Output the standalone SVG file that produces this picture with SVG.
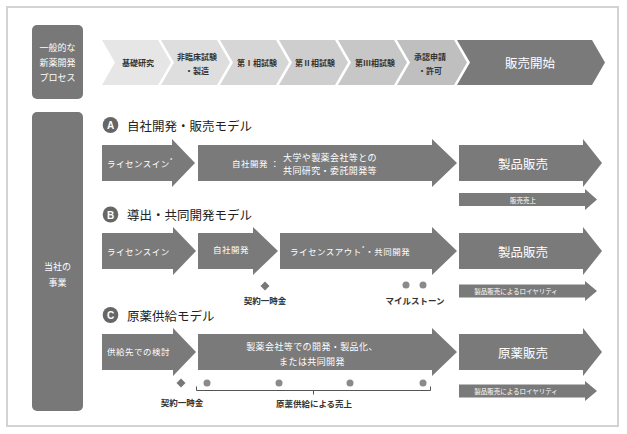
<svg xmlns="http://www.w3.org/2000/svg" width="627" height="434" viewBox="0 0 627 434">
<defs>
<style>
text{font-family:"Noto Sans CJK JP","Noto Sans",sans-serif;dominant-baseline:central}
.frame{fill:#fff;stroke:#d3d3d3;stroke-width:2}
.lbox{fill:#787878}
.lt{fill:#fff;font-size:9px;text-anchor:middle}
.chev text{fill:#333;font-size:8px;font-weight:bold;text-anchor:middle}
.arr{fill:#7a7a7a}
.at{fill:#fff;font-size:8.5px;letter-spacing:0.5px}
.at9{fill:#fff;font-size:9px;letter-spacing:0.4px}
.big{fill:#fff;font-size:12.5px;text-anchor:middle}
.sm{fill:#fff;font-size:6.5px;text-anchor:middle}
.ttl{fill:#222;font-size:12.5px}
.circ{fill:#666}
.cl{fill:#fff;font-size:10px;font-weight:bold;text-anchor:middle;font-family:"Liberation Sans",sans-serif}
.lab{fill:#333;font-size:8.5px;font-weight:600;text-anchor:middle}
.dot{fill:#8a8a8a}
.dia{fill:#777}
</style>
</defs>
<rect class="frame" x="7" y="7" width="611" height="419"/>

<g id="process-label">
<rect class="lbox" x="32" y="25" width="51" height="74" rx="5"/>
<text class="lt" x="57.5" y="47">一般的な</text>
<text class="lt" x="57.5" y="62">新薬開発</text>
<text class="lt" x="57.5" y="77">プロセス</text>
</g>

<g id="step-basic" class="chev">
<polygon points="102,40 158,40 171,62.5 158,85 102,85 115,62.5" fill="#e6e6e6"/>
<text x="138" y="62.5">基礎研究</text>
</g>
<g id="step-nonclinical" class="chev">
<polygon points="161,40 217,40 230,62.5 217,85 161,85 174,62.5" fill="#dedede"/>
<text x="197" y="56">非臨床試験</text>
<text x="197" y="70">・製造</text>
</g>
<g id="step-phase1" class="chev">
<polygon points="220,40 276,40 289,62.5 276,85 220,85 233,62.5" fill="#d6d6d6"/>
<text x="257" y="62.5">第Ⅰ相試験</text>
</g>
<g id="step-phase2" class="chev">
<polygon points="279,40 335,40 348,62.5 335,85 279,85 292,62.5" fill="#cecece"/>
<text x="315" y="62.5">第Ⅱ相試験</text>
</g>
<g id="step-phase3" class="chev">
<polygon points="338,40 394,40 407,62.5 394,85 338,85 351,62.5" fill="#c7c7c7"/>
<text x="375" y="62.5">第Ⅲ相試験</text>
</g>
<g id="step-approval" class="chev">
<polygon points="397,40 454,40 467,62.5 454,85 397,85 410,62.5" fill="#bfbfbf"/>
<text x="430" y="56">承認申請</text>
<text x="430" y="70">・許可</text>
</g>
<g id="step-launch">
<polygon points="457,40 592,40 605,62.5 592,85 457,85 470,62.5" fill="#7a7a7a"/>
<text class="big" x="530" y="62.5">販売開始</text>
</g>

<g id="business-label">
<rect class="lbox" x="32" y="112" width="51" height="299" rx="5"/>
<text class="lt" x="57.5" y="266">当社の</text>
<text class="lt" x="57.5" y="282">事業</text>
</g>

<!-- Model A -->
<g id="title-a">
<ellipse class="circ" cx="110.5" cy="125" rx="7.8" ry="8"/>
<text class="cl" x="110.5" y="125.5">A</text>
<text class="ttl" x="127" y="125">自社開発・販売モデル</text>
</g>
<g id="a-licensein">
<path class="arr" d="M102,145H172V139L195,163L172,187V181H102Z"/>
<text class="at" x="107" y="163">ライセンスイン<tspan font-size="6" dy="-3">*</tspan></text>
</g>
<g id="a-develop">
<path class="arr" d="M198,145H432V139L457,163L432,187V181H198Z"/>
<text class="at" x="232" y="163">自社開発 ：</text>
<text class="at9" x="283" y="157">大学や製薬会社等との</text>
<text class="at9" x="283" y="170">共同研究・委託開発等</text>
</g>
<g id="a-sales">
<path class="arr" d="M459,145H583V139L602,163L583,187V181H459Z"/>
<text class="big" x="523" y="163">製品販売</text>
</g>
<g id="a-revenue">
<path class="arr" d="M459,193H585V189L597,199.5L585,210V206H459Z"/>
<text class="sm" x="523" y="199.5">販売売上</text>
</g>

<!-- Model B -->
<g id="title-b">
<ellipse class="circ" cx="110.5" cy="214.5" rx="7.8" ry="8"/>
<text class="cl" x="110.5" y="215">B</text>
<text class="ttl" x="127" y="214.5">導出・共同開発モデル</text>
</g>
<g id="b-licensein">
<path class="arr" d="M102,233H173V227L196,251L173,275V269H102Z"/>
<text class="at" x="107" y="251">ライセンスイン</text>
</g>
<g id="b-develop">
<path class="arr" d="M198,233H253V227L278,251L253,275V269H198Z"/>
<text class="at" x="231" y="249" text-anchor="middle">自社開発</text>
</g>
<g id="b-licenseout">
<path class="arr" d="M280,233H432V227L457,251L432,275V269H280Z"/>
<text class="at" x="290" y="251">ライセンスアウト<tspan font-size="6" dy="-3">*</tspan><tspan dy="3">・共同開発</tspan></text>
</g>
<g id="b-sales">
<path class="arr" d="M459,233H583V227L602,251L583,275V269H459Z"/>
<text class="big" x="523" y="251">製品販売</text>
</g>
<g id="b-royalty">
<path class="arr" d="M459,284.5H585V281L597,291L585,301V297.5H459Z"/>
<text class="sm" x="516" y="291">製品販売によるロイヤリティ</text>
</g>
<g id="b-upfront">
<polygon class="dia" points="265,281.5 269.5,286 265,290.5 260.5,286"/>
<text class="lab" x="265" y="300">契約一時金</text>
</g>
<g id="b-milestone">
<circle class="dot" cx="406" cy="285" r="3.5"/>
<circle class="dot" cx="423" cy="285" r="3.5"/>
<text class="lab" x="415" y="300">マイルストーン</text>
</g>

<!-- Model C -->
<g id="title-c">
<ellipse class="circ" cx="110.5" cy="315" rx="7.8" ry="8"/>
<text class="cl" x="110.5" y="315.5">C</text>
<text class="ttl" x="127" y="315">原薬供給モデル</text>
</g>
<g id="c-evaluation">
<path class="arr" d="M102,334H173V328L196,352L173,376V370H102Z"/>
<text class="at" x="107" y="351">供給先での検討</text>
</g>
<g id="c-develop">
<path class="arr" d="M198,334H432V328L457,352L432,376V370H198Z"/>
<text class="at9" x="312" y="346" text-anchor="middle">製薬会社等での開発・製品化、</text>
<text class="at9" x="312" y="361" text-anchor="middle">または共同開発</text>
</g>
<g id="c-sales">
<path class="arr" d="M459,334H583V328L602,352L583,376V370H459Z"/>
<text class="big" x="523" y="352">原薬販売</text>
</g>
<g id="c-royalty">
<path class="arr" d="M459,384.5H585V381L597,391L585,401V397.5H459Z"/>
<text class="sm" x="516" y="391">製品販売によるロイヤリティ</text>
</g>
<g id="c-upfront">
<polygon class="dia" points="181,378.5 185.5,383 181,387.5 176.5,383"/>
<text class="lab" x="182" y="402">契約一時金</text>
</g>
<g id="c-supply">
<circle class="dot" cx="207" cy="383" r="3.5"/>
<circle class="dot" cx="279" cy="383" r="3.5"/>
<circle class="dot" cx="350" cy="383" r="3.5"/>
<circle class="dot" cx="423" cy="383" r="3.5"/>
<text class="lab" x="314" y="403">原薬供給による売上</text>
</g>

<g id="connectors" fill="none" stroke="#555" stroke-width="1">
<path d="M196.5,386.5V390.5H430.5V386.5"/>
<path d="M313.5,390.5V394.5"/>
</g>
</svg>
